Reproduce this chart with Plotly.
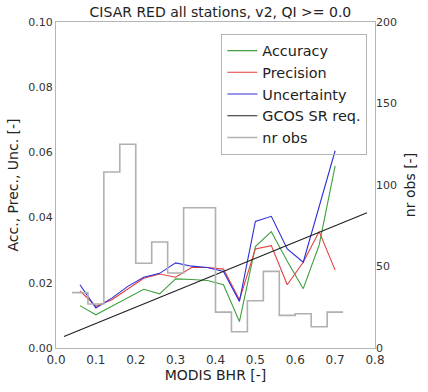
import plotly.graph_objects as go

# bin centres of MODIS BHR
bhr = [0.06, 0.10, 0.14, 0.18, 0.22, 0.26, 0.30, 0.34, 0.38, 0.42, 0.46,
       0.50, 0.54, 0.58, 0.62, 0.66, 0.70]
accuracy = [0.0130, 0.0102, 0.0128, 0.0153, 0.0180, 0.0166, 0.0212, 0.0210, 0.0207,
            0.0194, 0.0081, 0.0311, 0.0357, 0.0266, 0.0182, 0.0316, 0.0559]
precision = [0.0175, 0.0128, 0.0148, 0.0180, 0.0214, 0.0227, 0.0217, 0.0247, 0.0247,
             0.0242, 0.0148, 0.0304, 0.0314, 0.0194, 0.0263, 0.0357, 0.0239]
uncertainty = [0.0194, 0.0123, 0.0153, 0.0189, 0.0217, 0.0229, 0.0261, 0.0251, 0.0247,
               0.0235, 0.0143, 0.0388, 0.0404, 0.0304, 0.0263, 0.0433, 0.0605]
gcos_x = [0.02, 0.78]
gcos_y = [0.0035, 0.0415]
# histogram bin edges and counts
bin_edges = [0.04, 0.08, 0.12, 0.16, 0.20, 0.24, 0.28, 0.32, 0.36, 0.40, 0.44,
             0.48, 0.52, 0.56, 0.60, 0.64, 0.68, 0.72]
nr_obs = [34, 27, 108, 125, 52, 65, 46, 86, 86, 22, 10, 29, 47, 20, 21, 13, 22]

x_ticks = [0.0, 0.1, 0.2, 0.3, 0.4, 0.5, 0.6, 0.7, 0.8]
y_ticks = [0.00, 0.02, 0.04, 0.06, 0.08, 0.10]
y2_ticks = [0, 50, 100, 150, 200]

FONT = "DejaVu Sans"
SPINE = "#b5b5b5"

fig = go.Figure()
fig.add_trace(go.Scatter(x=bhr, y=accuracy, mode="lines", name="Accuracy",
                         line=dict(color="#40a040", width=1.1)))
fig.add_trace(go.Scatter(x=bhr, y=precision, mode="lines", name="Precision",
                         line=dict(color="#e04040", width=1.1)))
fig.add_trace(go.Scatter(x=bhr, y=uncertainty, mode="lines", name="Uncertainty",
                         line=dict(color="#2e2ed8", width=1.1)))
fig.add_trace(go.Scatter(x=gcos_x, y=gcos_y, mode="lines", name="GCOS SR req.",
                         line=dict(color="#202020", width=1.1)))
fig.add_trace(go.Scatter(x=bin_edges, y=nr_obs + [nr_obs[-1]], mode="lines", name="nr obs",
                         line=dict(color="#b0b0b0", width=1.6, shape="hv"), yaxis="y2"))

fig.update_layout(
    width=428, height=392,
    margin=dict(l=52, r=38, t=22, b=32),
    paper_bgcolor="white", plot_bgcolor="white",
    font=dict(family=FONT, color="#222222"),
    title=dict(text="CISAR RED all stations, v2, QI >= 0.0", x=0.515, xanchor="center",
               y=1 - 12 / 392, yanchor="middle", font=dict(size=14, color="#222222")),
    xaxis=dict(range=[0, 0.8], tickvals=x_ticks, ticktext=[f"{v:.1f}" for v in x_ticks],
               showgrid=False, zeroline=False, showline=True, linecolor=SPINE, linewidth=1.2,
               mirror=True, ticks="", tickfont=dict(size=12, color="#333333"),
               title=dict(text="MODIS BHR [-]", font=dict(size=14), standoff=4)),
    yaxis=dict(range=[0, 0.1], tickvals=y_ticks, ticktext=[f"{v:.2f}" for v in y_ticks],
               showgrid=False, zeroline=False, showline=True, linecolor=SPINE, linewidth=1.2,
               mirror=True, ticks="", tickfont=dict(size=11, color="#333333"),
               title=dict(text="Acc., Prec., Unc. [-]", font=dict(size=14), standoff=6)),
    yaxis2=dict(range=[0, 200], tickvals=y2_ticks, overlaying="y", side="right",
                showgrid=False, zeroline=False, showline=False, ticks="",
                tickfont=dict(size=11, color="#333333"),
                title=dict(text="nr obs [-]", font=dict(size=14), standoff=9)),
    legend=dict(x=0.976, y=0.964, xanchor="right", yanchor="top",
                bordercolor=SPINE, borderwidth=1, bgcolor="rgba(255,255,255,0)",
                font=dict(size=14.4, color="#222222"), tracegroupgap=0),
    showlegend=True,
)

fig.write_html("out.html")
